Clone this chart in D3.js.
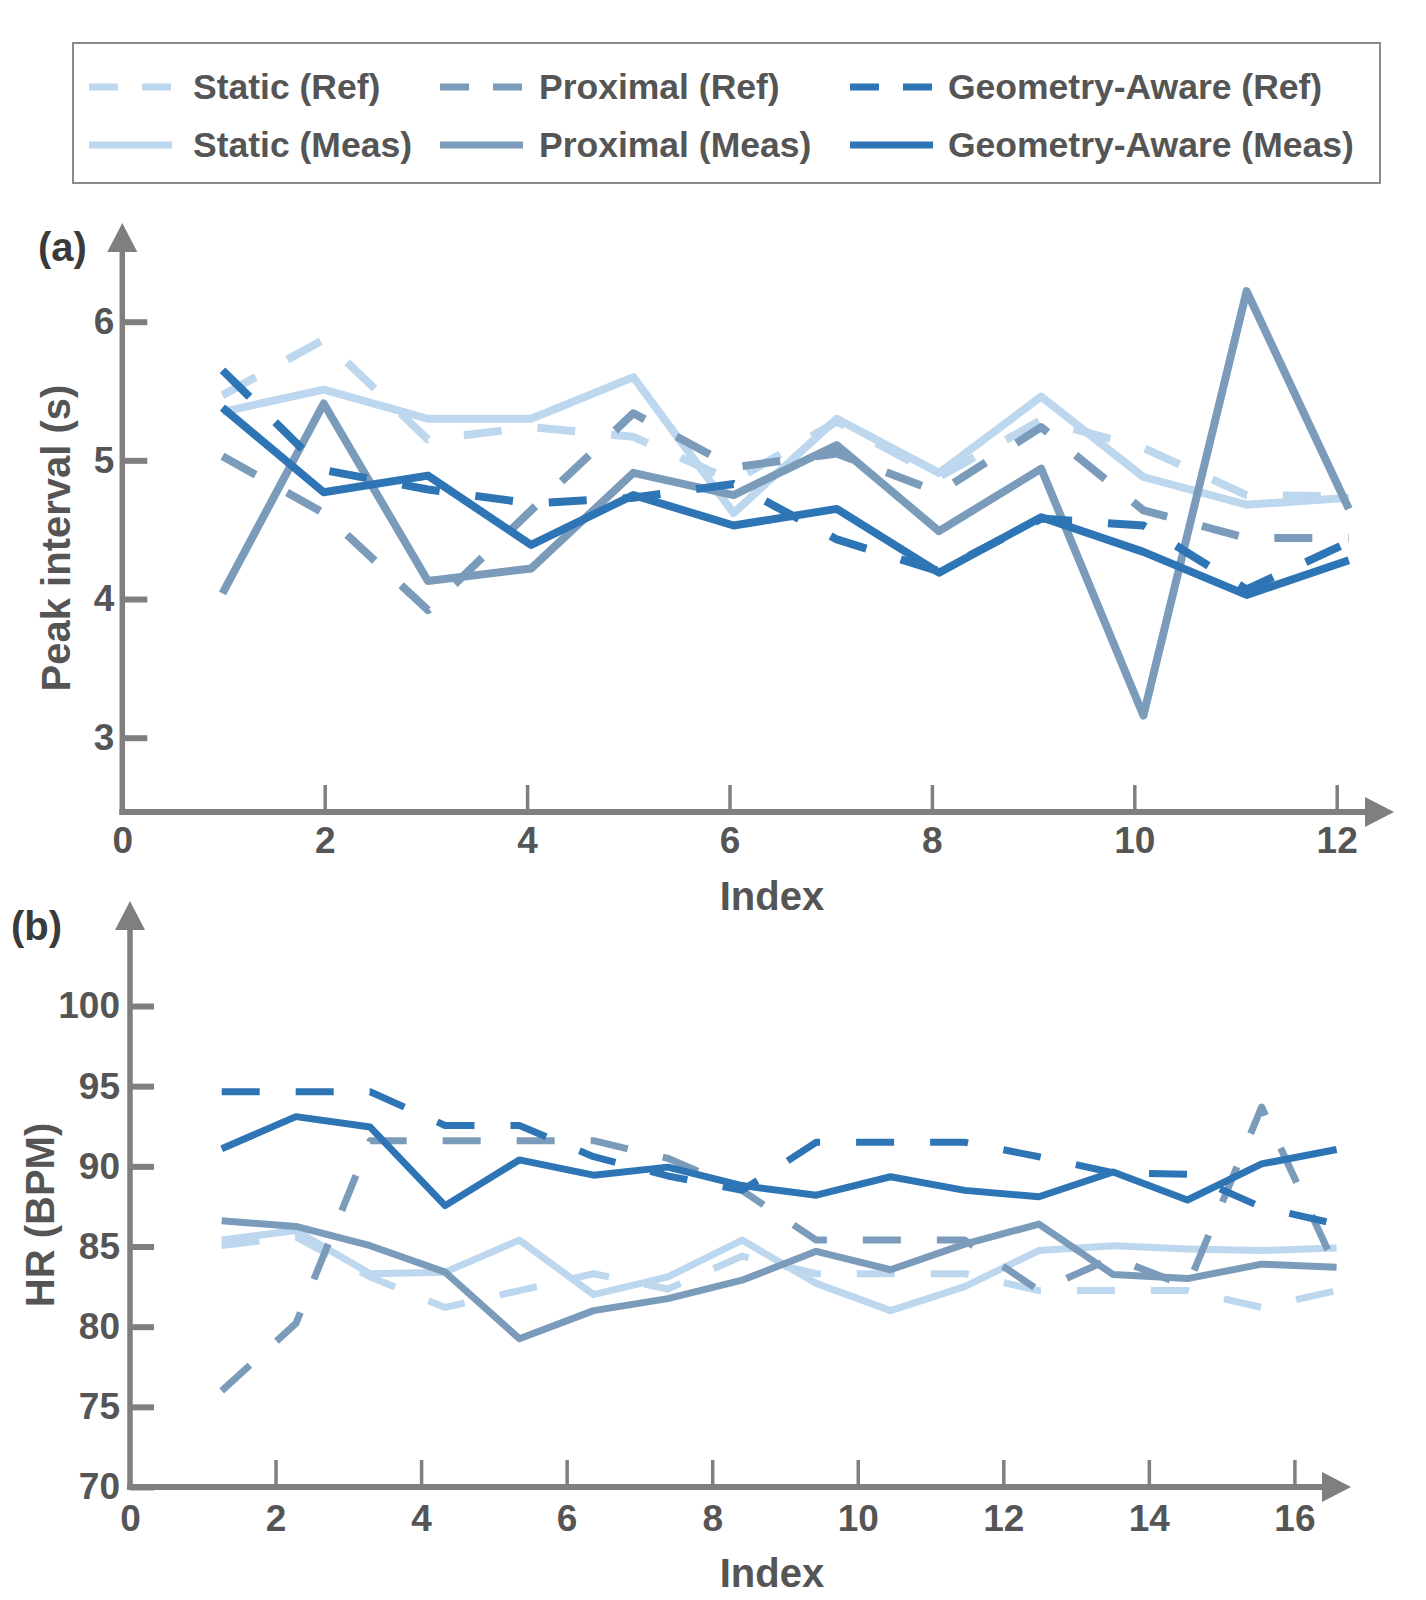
<!DOCTYPE html>
<html>
<head>
<meta charset="utf-8">
<script src="https://cdn.jsdelivr.net/npm/d3@7"></script>
<style>
  body { margin: 0; background: #fff; }
  svg { display: block; font-family: "Liberation Sans", Arial, Helvetica, sans-serif; font-weight: bold; }
</style>
</head>
<body>
<div id="chart"></div>
<script>
// ---- data ----
const seriesNames = ["Static (Ref)", "Static (Meas)", "Proximal (Ref)", "Proximal (Meas)", "Geometry-Aware (Ref)", "Geometry-Aware (Meas)"];

// panel (a): peak interval in seconds
const peakIndex = [0.99, 1.99, 3.02, 4.04, 5.05, 6.04, 7.06, 8.07, 9.08, 10.09, 11.11, 12.12];
const staticRefA = [5.47, 5.87, 5.15, 5.24, 5.17, 4.85, 5.28, 4.88, 5.29, 5.09, 4.75, 4.74];
const staticMeasA = [5.35, 5.51, 5.30, 5.30, 5.60, 4.62, 5.30, 4.91, 5.46, 4.88, 4.68, 4.73];
const proxRefA = [5.03, 4.62, 3.92, 4.64, 5.34, 4.95, 5.05, 4.77, 5.24, 4.64, 4.44, 4.44];
const proxMeasA = [4.04, 5.41, 4.13, 4.22, 4.91, 4.75, 5.11, 4.49, 4.94, 3.16, 6.22, 4.65];
const geoRefA = [5.65, 4.93, 4.79, 4.69, 4.73, 4.83, 4.43, 4.20, 4.58, 4.53, 4.07, 4.41];
const geoMeasA = [5.38, 4.77, 4.89, 4.39, 4.75, 4.53, 4.65, 4.19, 4.59, 4.34, 4.03, 4.28];

// panel (b): heart rate in BPM
const hrIndex = [1.26, 2.28, 3.30, 4.33, 5.35, 6.37, 7.39, 8.41, 9.43, 10.45, 11.47, 12.49, 13.51, 14.53, 15.55, 16.58];
const staticRefB = [85.06, 85.6, 83.1, 81.2, 82.25, 83.3, 82.35, 84.4, 83.3, 83.3, 83.3, 82.25, 82.25, 82.25, 81.2, 82.25];
const staticMeasB = [85.4, 86.0, 83.3, 83.4, 85.4, 82.0, 83.1, 85.4, 82.7, 81.0, 82.5, 84.75, 85.05, 84.85, 84.75, 84.9];
const proxRefB = [76.0, 80.2, 91.6, 91.6, 91.6, 91.6, 90.5, 88.5, 85.4, 85.4, 85.4, 82.25, 84.3, 82.5, 93.7, 83.6];
const proxMeasB = [86.6, 86.25, 85.05, 83.4, 79.25, 81.0, 81.75, 82.9, 84.7, 83.55, 85.15, 86.4, 83.25, 83.0, 83.9, 83.7];
const geoRefB = [94.65, 94.65, 94.65, 92.55, 92.55, 90.6, 89.4, 88.5, 91.5, 91.5, 91.5, 90.6, 89.6, 89.5, 87.45, 86.4];
const geoMeasB = [91.1, 93.1, 92.45, 87.55, 90.4, 89.45, 89.95, 88.8, 88.2, 89.35, 88.5, 88.1, 89.65, 87.9, 90.15, 91.05];

// ticks
const peakYTicks = [3, 4, 5, 6];
const peakXTicks = [0, 2, 4, 6, 8, 10, 12];
const hrYTicks = [70, 75, 80, 85, 90, 95, 100];
const hrXTicks = [0, 2, 4, 6, 8, 10, 12, 14, 16];

// ---- styles ----
const colors = { light: "#bdd7ee", mid: "#7b9bba", dark: "#2e75b6" };
const seriesStyle = [
  { color: colors.light, dashed: true },
  { color: colors.light, dashed: false },
  { color: colors.mid, dashed: true },
  { color: colors.mid, dashed: false },
  { color: colors.dark, dashed: true },
  { color: colors.dark, dashed: false },
];
const axisColor = "#7f7f7f";
const textColor = "#555";

const W = 1426, H = 1600;
const svg = d3.select("#chart").append("svg").attr("width", W).attr("height", H);
svg.append("rect").attr("width", W).attr("height", H).attr("fill", "#fff");

// ---- legend ----
const legend = svg.append("g");
legend.append("rect")
  .attr("x", 73).attr("y", 43).attr("width", 1307).attr("height", 140)
  .attr("fill", "#fff").attr("stroke", "#8a8a8a").attr("stroke-width", 2);

const legendLineX = [89, 440, 850];
const legendTextX = [193, 539, 948];
const legendRows = [87, 145];
// columns are methods, rows are Ref / Meas
seriesNames.forEach((name, i) => {
  const col = Math.floor(i / 2), row = i % 2;
  const st = seriesStyle[i];
  const y0 = legendRows[row];
  legend.append("line")
    .attr("x1", legendLineX[col]).attr("x2", legendLineX[col] + 83).attr("y1", y0).attr("y2", y0)
    .attr("stroke", st.color).attr("stroke-width", 7)
    .attr("stroke-dasharray", st.dashed ? "29,24" : null);
  legend.append("text")
    .attr("x", legendTextX[col]).attr("y", y0 + 12)
    .attr("fill", textColor).style("font-size", "35.5px")
    .text(name);
});

// ---- panel helper ----
function drawPanel(cfg) {
  const g = svg.append("g");
  const x = d3.scaleLinear().domain(cfg.xDomain).range(cfg.xRange);
  const y = d3.scaleLinear().domain(cfg.yDomain).range(cfg.yRange);
  const ax = x(0), ay = cfg.axisY;

  // y ticks (thick stubs, inside) + labels
  const yAxis = d3.axisLeft(y).tickValues(cfg.yTicks).tickFormat(d3.format("d"))
    .tickSize(-cfg.yTickLen).tickPadding(cfg.yPad);
  const gy = g.append("g").attr("transform", `translate(${ax},0)`).call(yAxis);
  gy.select(".domain").remove();
  gy.selectAll(".tick line").attr("stroke", axisColor).attr("stroke-width", 6);
  gy.selectAll(".tick text").attr("fill", textColor).style("font-size", "37px")
    .style("font-family", "inherit").style("font-weight", "bold");

  // x ticks (thin, inside) + labels
  const xAxis = d3.axisBottom(x).tickValues(cfg.xTicks).tickFormat(d3.format("d"))
    .tickSize(-cfg.xTickLen).tickPadding(cfg.xPad);
  const gx = g.append("g").attr("transform", `translate(0,${ay})`).call(xAxis);
  gx.select(".domain").remove();
  gx.selectAll(".tick line").attr("stroke", axisColor).attr("stroke-width", 3.5)
    .attr("display", d => (d === 0 ? "none" : null));
  gx.selectAll(".tick text").attr("fill", textColor).style("font-size", "37px")
    .style("font-family", "inherit").style("font-weight", "bold");

  // axis lines with arrow heads
  g.append("line").attr("x1", ax).attr("x2", ax).attr("y1", ay + 3).attr("y2", cfg.yArrowBase)
    .attr("stroke", axisColor).attr("stroke-width", 5.5);
  g.append("line").attr("x1", ax - 3).attr("x2", cfg.xArrowBase).attr("y1", ay).attr("y2", ay)
    .attr("stroke", axisColor).attr("stroke-width", 6);
  g.append("path")
    .attr("d", `M${ax - 15},${cfg.yArrowBase} L${ax + 15},${cfg.yArrowBase} L${ax},${cfg.yArrowBase - 29} Z`)
    .attr("fill", axisColor);
  g.append("path")
    .attr("d", `M${cfg.xArrowBase},${ay - 15} L${cfg.xArrowBase},${ay + 15} L${cfg.xArrowBase + 29},${ay} Z`)
    .attr("fill", axisColor);

  // series lines
  const line = d3.line().x(d => x(d[0])).y(d => y(d[1]));
  cfg.series.forEach((vals, i) => {
    const st = seriesStyle[i];
    g.append("path")
      .datum(vals.map((v, k) => [cfg.index[k], v]))
      .attr("d", line)
      .attr("fill", "none")
      .attr("stroke", st.color)
      .attr("stroke-width", cfg.lineWidth)
      .attr("stroke-linejoin", "round")
      .attr("stroke-dasharray", st.dashed ? "38,36" : null);
  });

  // labels
  g.append("text").attr("x", cfg.panelLabel[1]).attr("y", cfg.panelLabel[2])
    .attr("fill", "#3a3a3a").style("font-size", "40px").text(cfg.panelLabel[0]);
  g.append("text").attr("x", 772).attr("y", cfg.xLabelY).attr("text-anchor", "middle")
    .attr("fill", textColor).style("font-size", "40px").text("Index");
  g.append("text")
    .attr("transform", `translate(${cfg.yLabelPos[0]},${cfg.yLabelPos[1]}) rotate(-90)`)
    .attr("text-anchor", "middle").attr("dy", "0.35em")
    .attr("fill", textColor).style("font-size", "40px").text(cfg.yLabel);
}

drawPanel({
  xDomain: [0, 12], xRange: [122.3, 1336.7],
  yDomain: [3, 6], yRange: [737.7, 321.7],
  axisY: 812, yArrowBase: 252, xArrowBase: 1365,
  yTicks: peakYTicks, xTicks: peakXTicks,
  yTickLen: 25, xTickLen: 27, yPad: 8, xPad: 15,
  index: peakIndex,
  series: [staticRefA, staticMeasA, proxRefA, proxMeasA, geoRefA, geoMeasA],
  lineWidth: 8,
  panelLabel: ["(a)", 38, 261],
  xLabelY: 910,
  yLabel: "Peak interval (s)", yLabelPos: [56, 538],
});

drawPanel({
  xDomain: [0, 16], xRange: [130, 1294.4],
  yDomain: [70, 100], yRange: [1487, 1006],
  axisY: 1487, yArrowBase: 930, xArrowBase: 1322,
  yTicks: hrYTicks, xTicks: hrXTicks,
  yTickLen: 24, xTickLen: 27, yPad: 10, xPad: 18,
  index: hrIndex,
  series: [staticRefB, staticMeasB, proxRefB, proxMeasB, geoRefB, geoMeasB],
  lineWidth: 7,
  panelLabel: ["(b)", 11, 940],
  xLabelY: 1587,
  yLabel: "HR (BPM)", yLabelPos: [40, 1215],
});
</script>
</body>
</html>
